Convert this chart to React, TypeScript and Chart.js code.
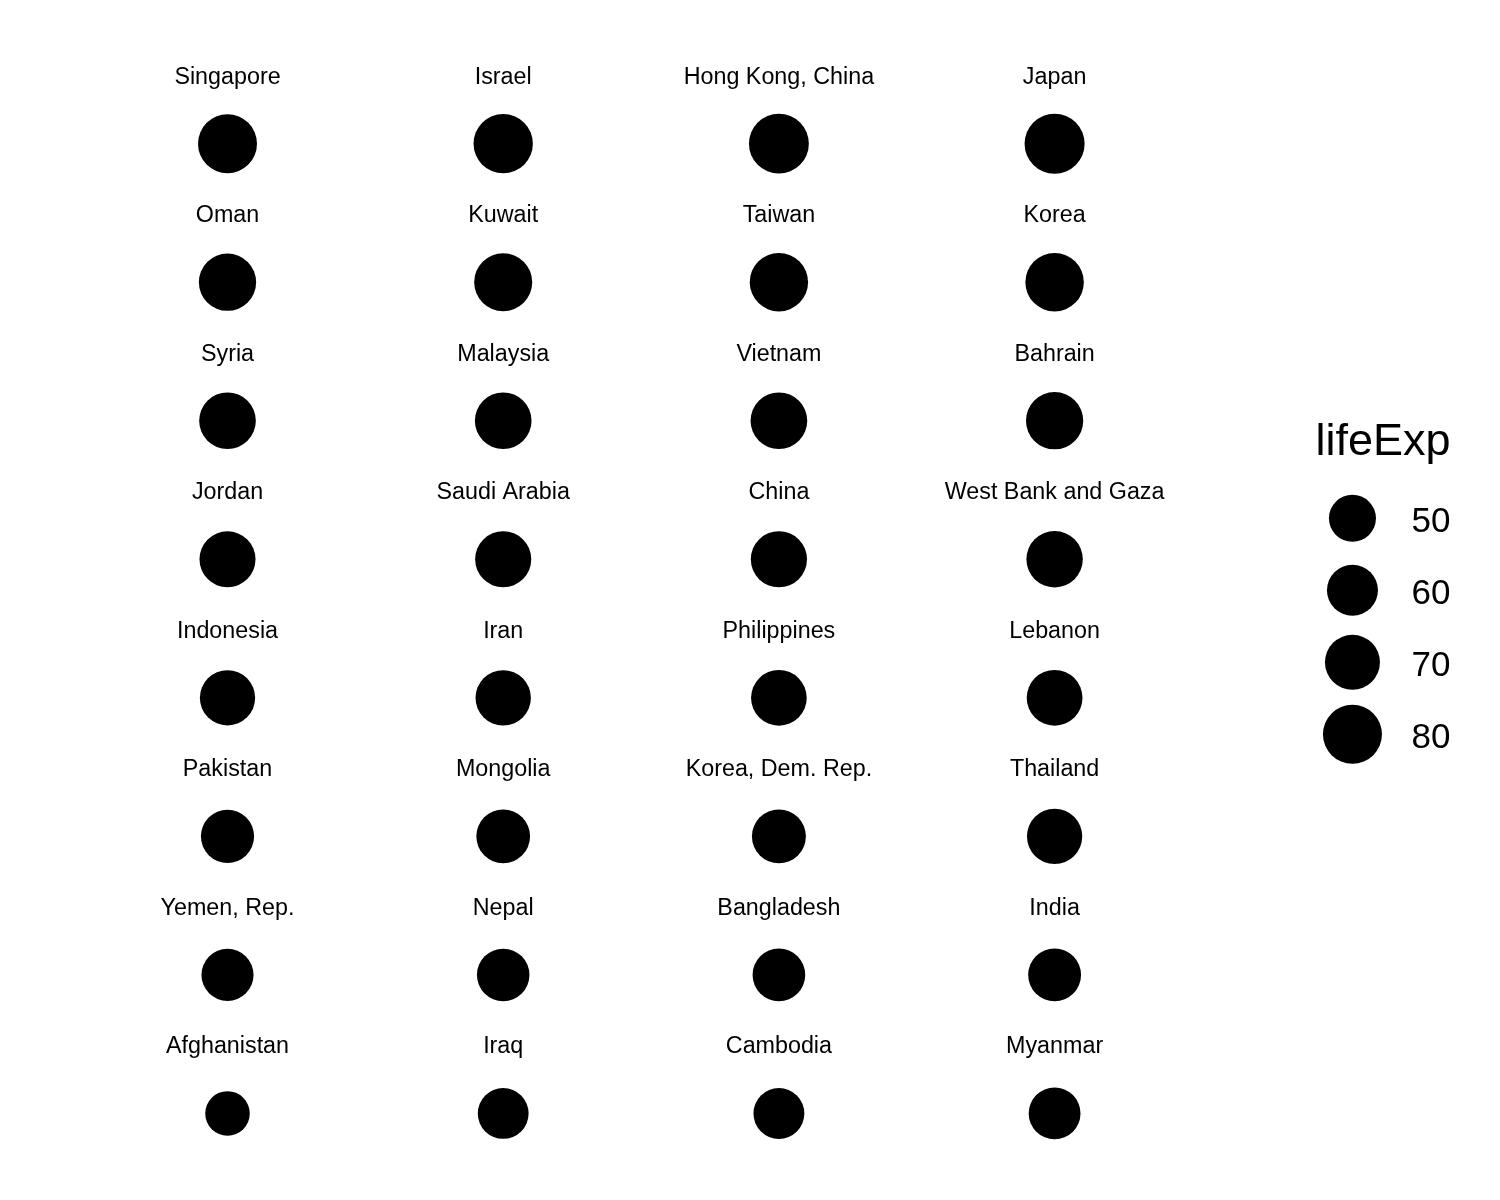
import React, { useEffect, useRef } from "react";
import { Chart, registerables } from "chart.js";

Chart.register(...registerables);

// Facet order (4 columns, wrapped row by row)
const countries = [
  "Singapore", "Israel", "Hong Kong, China", "Japan",
  "Oman", "Kuwait", "Taiwan", "Korea",
  "Syria", "Malaysia", "Vietnam", "Bahrain",
  "Jordan", "Saudi Arabia", "China", "West Bank and Gaza",
  "Indonesia", "Iran", "Philippines", "Lebanon",
  "Pakistan", "Mongolia", "Korea, Dem. Rep.", "Thailand",
  "Yemen, Rep.", "Nepal", "Bangladesh", "India",
  "Afghanistan", "Iraq", "Cambodia", "Myanmar",
];

const lifeExp = [
  79.972, 80.745, 82.208, 82.603,
  75.64, 77.588, 78.4, 78.623,
  74.143, 74.241, 74.249, 75.635,
  72.535, 72.777, 72.961, 73.422,
  70.65, 70.964, 71.688, 71.993,
  65.483, 66.803, 67.297, 70.616,
  62.698, 63.785, 64.062, 64.698,
  43.828, 59.545, 59.723, 62.069,
];

const legendTitle = "lifeExp";
const legendBreaks = [50, 60, 70, 80];

const NCOL = 4;
const NROW = Math.ceil(countries.length / NCOL);

const radiusOf = (v: number) => 13.5 + 0.2 * v;

const FONT = '"Liberation Sans", Arial, Helvetica, sans-serif';

const facetPlugin = {
  id: "facetLabelsAndLegend",
  afterDatasetsDraw(chart: any) {
    const ctx = chart.ctx as CanvasRenderingContext2D;
    const meta = chart.getDatasetMeta(0);
    ctx.save();
    // strip labels
    ctx.font = `23.3px ${FONT}`;
    ctx.fillStyle = "#000000";
    ctx.textAlign = "center";
    ctx.textBaseline = "alphabetic";
    meta.data.forEach((el: any, i: number) => {
      ctx.fillText(countries[i], el.x, el.y - 60);
    });

    // size legend
    const area = chart.chartArea;
    const lx = area.right + 160;
    const ly0 = 518.3;
    const step = 72;
    ctx.fillStyle = "#000000";
    ctx.textAlign = "left";
    ctx.font = `45px ${FONT}`;
    ctx.fillText(legendTitle, lx - 37, 455);
    ctx.font = `35px ${FONT}`;
    legendBreaks.forEach((b, k) => {
      const cy = ly0 + k * step;
      ctx.beginPath();
      ctx.arc(lx, cy, radiusOf(b), 0, Math.PI * 2);
      ctx.fill();
      ctx.fillText(String(b), lx + 59, cy + 13.2);
    });
    ctx.restore();
  },
};

export default function App() {
  const ref = useRef<HTMLCanvasElement>(null);

  useEffect(() => {
    if (!ref.current) return;
    const points = countries.map((c, i) => ({
      x: i % NCOL,
      y: Math.floor(i / NCOL),
      v: lifeExp[i],
    }));
    const chart = new Chart(ref.current, {
      type: "scatter",
      data: {
        datasets: [
          {
            label: "lifeExp",
            data: points as any,
            backgroundColor: "#000000",
            borderWidth: 0,
            pointStyle: "circle",
            pointRadius: (c: any) => radiusOf(c.raw.v),
            pointHoverRadius: (c: any) => radiusOf(c.raw.v),
            clip: false as any,
          },
        ],
      },
      options: {
        responsive: false,
        animation: false,
        devicePixelRatio: 1,
        events: [],
        layout: {
          autoPadding: false,
          padding: { left: 89.65, top: 74.4, right: 307.55, bottom: 17.3 },
        },
        scales: {
          x: { type: "linear", min: -0.5, max: NCOL - 0.5, display: false },
          y: { type: "linear", min: -0.5, max: NROW - 0.5, reverse: true, display: false },
        },
        plugins: {
          legend: { display: false },
          tooltip: { enabled: false },
          title: { display: false },
        },
      },
      plugins: [facetPlugin],
    });
    return () => chart.destroy();
  }, []);

  return (
    <div style={{ position: "absolute", left: 0, top: 0, width: 1500, height: 1200, background: "#ffffff" }}>
      <canvas ref={ref} width={1500} height={1200} style={{ display: "block", width: 1500, height: 1200 }} />
    </div>
  );
}
